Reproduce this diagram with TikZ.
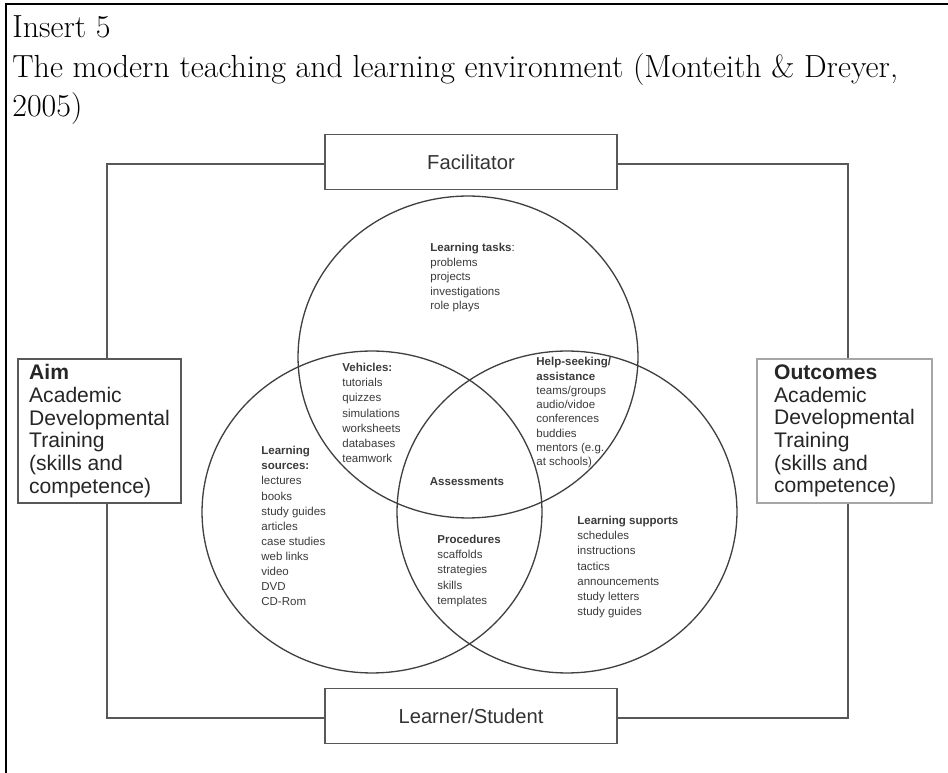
\documentclass[tikz,border=0pt]{standalone}
\usepackage{fontspec}
\usetikzlibrary{shapes.geometric}
\newfontfamily\arial{Liberation Sans}
\definecolor{linegray}{HTML}{404040}
\definecolor{boxgray}{HTML}{585858}
\definecolor{textgray}{HTML}{3A3A3A}

\tikzset{
  venn/.style={ellipse, draw=linegray, line width=0.75pt, minimum width=6.8cm, minimum height=6.44cm, inner sep=0},
  rolebox/.style={draw=boxgray, fill=white, line width=0.8pt, minimum width=5.84cm, minimum height=1.1cm, font=\arial\fontsize{11.5}{13}\selectfont, text=black!80},
  sidebox/.style={draw=boxgray, fill=white, line width=0.8pt, align=left, minimum height=2.88cm, inner sep=0, font=\arial\fontsize{12}{12.9}\selectfont, text=black!85},
  itemlist/.style={anchor=north west, align=left, inner sep=0, font=\arial\fontsize{6.55}{8.6}\selectfont, text=textgray},
  framepath/.style={draw=boxgray, line width=0.8pt},
  titleline/.style={anchor=base west, inner sep=0, font=\fontsize{18.2}{22}\selectfont}
}

\begin{document}
\begin{tikzpicture}[x=0.02cm, y=-0.02cm]
    \useasboundingbox (0,0) rectangle (948,773);
    \draw[line width=1.7pt] (6,773) -- (6,4) -- (948,4);

    \node[titleline] (ins) at (12,38) {Insert 5};
    \node[titleline] (cap1) at (12,78) {The modern teaching and learning environment (Monteith \& Dreyer,};
    \node[titleline] (cap2) at (12,117) {2005)};

    \coordinate (tl) at (107,164);
    \coordinate (tr) at (848,164);
    \coordinate (bl) at (107,718);
    \coordinate (br) at (848,718);

    \node[rolebox] (fac) at (471,162) {Facilitator};
    \node[rolebox] (lrn) at (471,716) {Learner/Student};
    \node[sidebox, minimum width=3.26cm] (aim) at (99.5,431) {\textbf{Aim}\\Academic\\Developmental\\Training\\(skills and\\competence)};
    \node[sidebox, draw=gray!70, minimum width=3.5cm] (outc) at (844.5,431) {\textbf{Outcomes}\\Academic\\Developmental\\Training\\(skills and\\competence)};

    \path[framepath] (fac.west |- tl) -- (tl) -- (aim.north -| tl);
    \path[framepath] (aim.south -| bl) -- (bl) -- (lrn.west |- bl);
    \path[framepath] (lrn.east |- br) -- (br) -- (outc.south -| br);
    \path[framepath] (outc.north -| tr) -- (tr) -- (fac.east |- tr);

    \node[venn] (tasks) at (468,357) {};
    \node[venn] (sources) at (372,512) {};
    \node[venn] (supports) at (567,512) {};

    \node[itemlist, font=\arial\fontsize{6.55}{8.25}\selectfont] (tasklist) at (430,243) {\textbf{Learning tasks}:\\problems\\projects\\investigations\\role plays};
    \node[itemlist] (vehlist) at (342,363) {\textbf{Vehicles:}\\tutorials\\quizzes\\simulations\\worksheets\\databases\\teamwork};
    \node[itemlist, font=\arial\fontsize{6.55}{8.15}\selectfont] (helplist) at (536,357) {\textbf{Help-seeking/}\\\textbf{assistance}\\teams/groups\\audio/vidoe\\conferences\\buddies\\mentors (e.g.\\at schools)};
    \node[itemlist] (srclist) at (261,446) {\textbf{Learning}\\\textbf{sources:}\\lectures\\books\\study guides\\articles\\case studies\\web links\\video\\DVD\\CD-Rom};
    \node[itemlist, anchor=center] (assess) at (467,482) {\textbf{Assessments}};
    \node[itemlist] (proclist) at (437,535) {\textbf{Procedures}\\scaffolds\\strategies\\skills\\templates};
    \node[itemlist] (suplist) at (577,516) {\textbf{Learning supports}\\schedules\\instructions\\tactics\\announcements\\study letters\\study guides};
\end{tikzpicture}
\end{document}
